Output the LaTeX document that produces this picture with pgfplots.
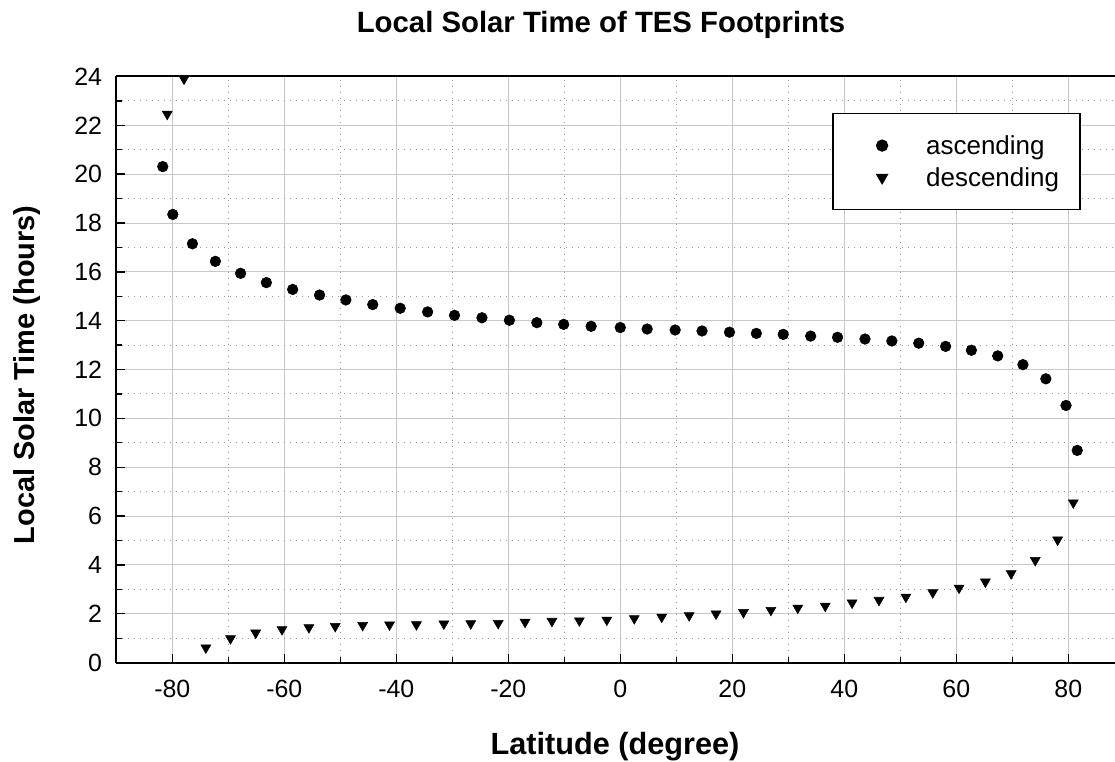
\documentclass[border=0pt]{standalone}
\usepackage{fontspec}
\setmainfont{Liberation Sans}
\usepackage{pgfplots}
\pgfplotsset{compat=1.18}

\pgfplotstableread{
lat   lst
-81.7 20.31
-79.9 18.35
-76.4 17.15
-72.3 16.43
-67.8 15.94
-63.2 15.56
-58.5 15.28
-53.7 15.05
-49.0 14.85
-44.2 14.66
-39.3 14.51
-34.4 14.36
-29.6 14.22
-24.7 14.12
-19.8 14.02
-14.9 13.92
-10.1 13.85
-5.2  13.77
0.0   13.72
4.8   13.66
9.8   13.62
14.6  13.58
19.5  13.53
24.3  13.48
29.1  13.44
34.0  13.37
38.8  13.32
43.7  13.25
48.5  13.17
53.3  13.08
58.1  12.95
62.7  12.79
67.4  12.56
71.9  12.20
76.0  11.62
79.6  10.53
81.6  8.69
}\ascending

\pgfplotstableread{
lat   lst
-80.9 22.46
-77.9 23.90
-74.0 0.61
-69.6 0.99
-65.1 1.22
-60.4 1.36
-55.6 1.44
-50.9 1.49
-46.0 1.53
-41.2 1.55
-36.4 1.56
-31.5 1.59
-26.7 1.60
-21.8 1.61
-17.0 1.66
-12.2 1.70
-7.3  1.72
-2.4  1.75
2.5   1.81
7.4   1.87
12.3  1.93
17.1  2.00
22.0  2.06
26.9  2.15
31.7  2.24
36.6  2.32
41.4  2.45
46.2  2.56
51.0  2.69
55.8  2.87
60.5  3.06
65.2  3.31
69.8  3.65
74.1  4.19
78.1  5.03
80.9  6.55
}\descending

\begin{document}
\begin{tikzpicture}[x=0.75pt, y=0.75pt]
  \useasboundingbox (0,0) rectangle (1115,762);
  \begin{axis}[
      at={(465.2pt,74.5pt)}, anchor=origin,
      scale only axis,
      width=756pt, height=439.65pt,
      xmin=-90, xmax=90,
      ymin=0, ymax=24,
      axis x line*=box, axis y line*=left,
      xtick={-80,-60,...,80},
      minor x tick num=1,
      ytick={0,2,...,24},
      minor y tick num=1,
      xtick pos=bottom, ytick pos=left,
      major tick length=6.75pt, minor tick length=4.5pt,
      tick style={black, line width=1pt},
      axis line style={-, black, line width=1.5pt},
      grid=both,
      major grid style={draw=black!22, line width=0.75pt, solid},
      minor grid style={draw=black!40, line width=0.75pt, dash pattern=on 0.75pt off 3.75pt},
      /pgf/number format/assume math mode=true,
      tick label style={font=\fontsize{18.7}{22}\selectfont},
      xticklabel style={anchor=base, yshift=-26.5pt},
      yticklabel style={anchor=east, inner xsep=0pt, xshift=-10.5pt},
      legend cell align=left,
      legend style={
          at={(0.957,0.938)}, anchor=north east,
          draw=black, line width=1.2pt, fill=white,
          inner xsep=0pt, inner ysep=12pt,
          column sep=28.8pt, row sep=0pt,
          nodes={inner sep=0pt, text width=115.5pt, align=left,
                 font=\fontsize{19.5}{23}\selectfont},
      },
      legend image code/.code={
          \path[draw=none, fill=none] (-36.75pt,-12pt) rectangle (4.2pt,12pt);
          \draw[#1] plot coordinates {(0pt,0pt)};
      },
  ]
    \addplot[only marks, mark=*, mark size=4pt, black]
        table[x=lat, y=lst] {\ascending};
    \addlegendentry{ascending}
    \addplot[only marks, mark=triangle*, mark size=4.3pt, black,
             mark options={rotate=180}]
        table[x=lat, y=lst] {\descending};
    \addlegendentry{descending}
  \end{axis}
  \node[anchor=base, font=\fontsize{22}{26}\selectfont\bfseries]
      at (601,729) {Local Solar Time of TES Footprints};
  \node[anchor=base, font=\fontsize{23}{27}\selectfont\bfseries]
      at (615,7) {Latitude (degree)};
  \node[anchor=base, rotate=90, font=\fontsize{21.7}{26}\selectfont\bfseries]
      at (34,387) {Local Solar Time (hours)};
\end{tikzpicture}
\end{document}
